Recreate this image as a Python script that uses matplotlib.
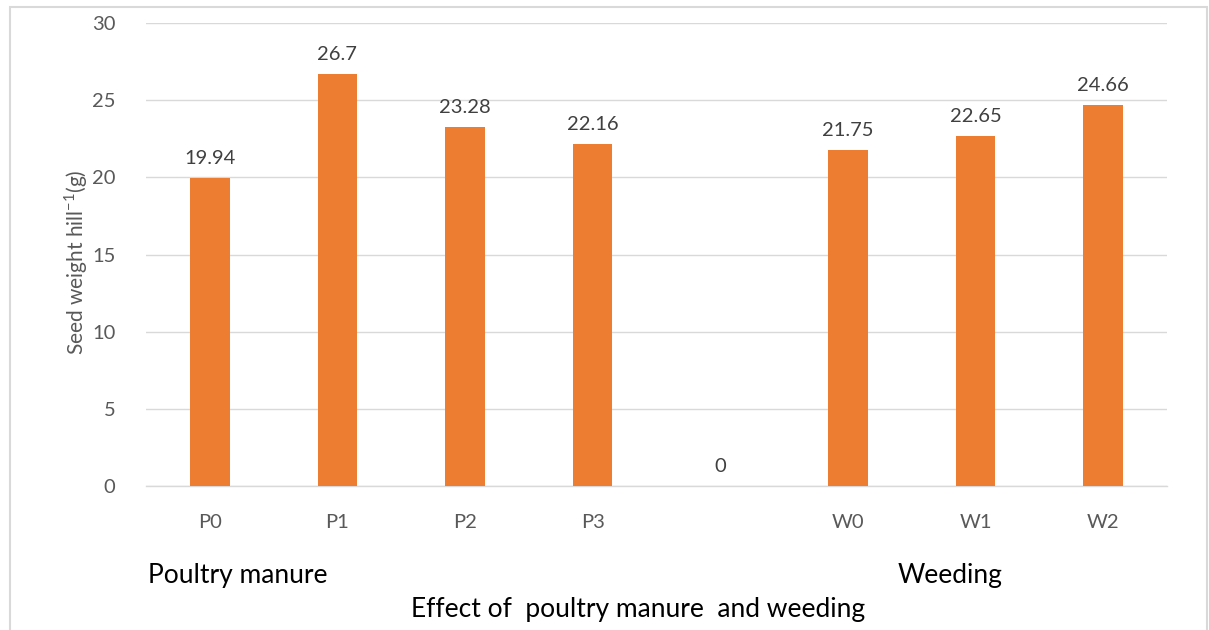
import matplotlib
matplotlib.use("Agg")
import matplotlib.pyplot as plt
from matplotlib.patches import Rectangle

categories = ["P0", "P1", "P2", "P3", "", "W0", "W1", "W2"]
values = [19.94, 26.7, 23.28, 22.16, 0, 21.75, 22.65, 24.66]
value_labels = ["19.94", "26.7", "23.28", "22.16", "0", "21.75", "22.65", "24.66"]
yticks = [0, 5, 10, 15, 20, 25, 30]

plt.rcParams['font.family'] = ['Lato', 'DejaVu Sans']

W, H = 1209, 630
fig = plt.figure(figsize=(W / 100, H / 100), dpi=100)
fig.patch.set_facecolor("white")

# outer border
fig.patches.append(Rectangle((10 / W, -0.05), 1197 / W, 1.05 - 7 / H,
                             transform=fig.transFigure, fill=False,
                             edgecolor="#d9d9d9", linewidth=1.5))

left, right, top, bottom = 146, 1167, 23, 486
ax = fig.add_axes([left / W, 1 - bottom / H, (right - left) / W, (bottom - top) / H])

fs = 14.5
x = list(range(len(categories)))
ax.bar(x, values, width=0.31, color="#ED7D31", zorder=3)
for xi, v, lab in zip(x, values, value_labels):
    ax.annotate(lab, (xi, v), xytext=(0, 8), textcoords="offset points",
                ha="center", va="bottom", fontsize=fs, color="#404040")

ax.set_xlim(-0.5, len(categories) - 0.5)
ax.set_ylim(0, 30)
ax.set_yticks(yticks)
ax.set_yticklabels([str(t) for t in yticks], fontsize=fs, color="#595959")
ax.set_xticks(x)
ax.set_xticklabels(categories, fontsize=fs, color="#595959")
ax.tick_params(axis="both", length=0)
ax.tick_params(axis="y", pad=22)
ax.tick_params(axis="x", pad=20)
ax.grid(axis="y", color="#d9d9d9", linewidth=1, zorder=0)
for s in ["top", "right", "left"]:
    ax.spines[s].set_visible(False)
ax.spines["bottom"].set_color("#d9d9d9")
ax.spines["bottom"].set_linewidth(1)

ax.set_ylabel("Seed weight hill$^{\\mathregular{-1}}$(g)", fontsize=15, color="#595959")
ax.yaxis.set_label_coords((90 - left) / (right - left), (bottom - 262) / (bottom - top))

fig.text(148 / W, 1 - 575 / H, "Poultry manure", fontsize=19, color="black",
         ha="left", va="center")
fig.text(950 / W, 1 - 575 / H, "Weeding", fontsize=19, color="black",
         ha="center", va="center")
fig.text(638 / W, 1 - 610 / H, "Effect of  poultry manure  and weeding", fontsize=19,
         color="black", ha="center", va="center")

fig.savefig("out.png", dpi=100, facecolor="white")
